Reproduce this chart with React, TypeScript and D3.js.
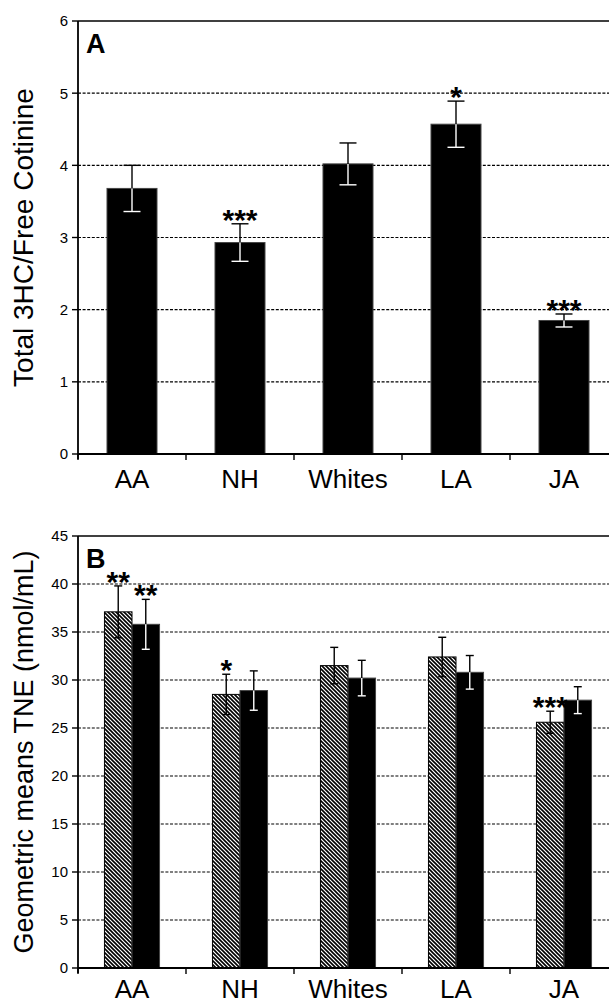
import React from 'react';
import * as d3 from 'd3';

// values
const categories = ['AA', 'NH', 'Whites', 'LA', 'JA'];

const ratioMeans = [3.68, 2.93, 4.02, 4.57, 1.85];
const ratioErrors = [0.32, 0.26, 0.29, 0.32, 0.09];
const ratioStars = ['', '***', '', '*', '***'];
const ratioTicks = [0, 1, 2, 3, 4, 5, 6];

const tneHatched = [37.1, 28.5, 31.5, 32.4, 25.6];
const tneHatchedErr = [2.7, 2.1, 1.9, 2.05, 1.15];
const tneHatchedStars = ['**', '*', '', '', '***'];
const tneSolid = [35.8, 28.9, 30.2, 30.8, 27.9];
const tneSolidErr = [2.6, 2.05, 1.85, 1.75, 1.4];
const tneSolidStars = ['**', '', '', '', ''];
const tneTicks = [0, 5, 10, 15, 20, 25, 30, 35, 40, 45];

const FONT = '"Liberation Sans", Arial, Helvetica, sans-serif';
const W = 609;
const H = 1005;
const left = 78;
const right = 618;

const x = d3.scaleBand().domain(categories).range([left, right]).padding(0);

type Bar = { key: string; cx: number; w: number; value: number; err: number; star: string; hatched: boolean };

function ErrorBar({ b, y, cap }: { b: Bar; y: d3.ScaleLinear<number, number>; cap: number }) {
  const top = y(b.value + b.err);
  const mid = y(b.value);
  const bot = y(b.value - b.err);
  const inner = b.hatched ? '#000' : '#fff';
  return (
    <g strokeWidth={1.4}>
      <line x1={b.cx} x2={b.cx} y1={top} y2={mid} stroke="#000" />
      <line x1={b.cx - cap / 2} x2={b.cx + cap / 2} y1={top} y2={top} stroke="#000" />
      <line x1={b.cx} x2={b.cx} y1={mid} y2={bot} stroke={inner} />
      <line x1={b.cx - cap / 2} x2={b.cx + cap / 2} y1={bot} y2={bot} stroke={inner} />
    </g>
  );
}

function Panel({ label, title, titleSize, top, bottom, ticks, bars, cap, labelGap }: {
  label: string; title: string; titleSize: number; top: number; bottom: number;
  ticks: number[]; bars: Bar[]; cap: number; labelGap: number;
}) {
  const y = d3.scaleLinear().domain([ticks[0], ticks[ticks.length - 1]]).range([bottom, top]);
  const boundaries = [left, ...categories.map(c => (x(c) as number) + x.bandwidth())];
  return (
    <g fontFamily={FONT}>
      {/* grid */}
      {ticks.slice(1, -1).map(t => (
        <line key={'g' + t} x1={left} x2={right} y1={y(t)} y2={y(t)}
          stroke="#000" strokeWidth={1.2} strokeDasharray="3,1.6" />
      ))}
      {/* bars */}
      {bars.map(b => (
        <rect key={b.key} x={b.cx - b.w / 2} y={y(b.value)} width={b.w} height={bottom - y(b.value)}
          fill={b.hatched ? 'url(#hatch)' : '#000'} stroke={b.hatched ? '#000' : '#444'} strokeWidth={1} />
      ))}
      {bars.map(b => <ErrorBar key={'e' + b.key} b={b} y={y} cap={cap} />)}
      {bars.filter(b => b.star).map(b => (
        <text key={'s' + b.key} x={b.cx} y={y(b.value + b.err) + 6} textAnchor="middle"
          fontSize={30} fontWeight="bold">{b.star}</text>
      ))}
      {/* frame & axes */}
      <line x1={left} x2={right} y1={top} y2={top} stroke="#000" strokeWidth={1.6} />
      <line x1={left} x2={right} y1={bottom} y2={bottom} stroke="#000" strokeWidth={1.8} />
      <line x1={left} x2={left} y1={top} y2={bottom + 5} stroke="#000" strokeWidth={1.8} />
      {ticks.map(t => (
        <g key={'t' + t}>
          <line x1={left - 6} x2={left} y1={y(t)} y2={y(t)} stroke="#000" strokeWidth={1.4} />
          <text x={left - 10} y={y(t)} dy="0.36em" textAnchor="end" fontSize={15}>{t}</text>
        </g>
      ))}
      {boundaries.map((bx, i) => (
        <line key={'xt' + i} x1={bx} x2={bx} y1={bottom} y2={bottom + 6} stroke="#000" strokeWidth={1.4} />
      ))}
      {categories.map(c => (
        <text key={'xl' + c} x={(x(c) as number) + x.bandwidth() / 2} y={bottom + labelGap}
          textAnchor="middle" fontSize={26}>{c}</text>
      ))}
      <text transform={`translate(33,${(top + bottom) / 2}) rotate(-90)`} textAnchor="middle"
        fontSize={titleSize}>{title}</text>
      <text x={86} y={top + 32} fontSize={27} fontWeight="bold">{label}</text>
    </g>
  );
}

export default function App() {
  const aw = x.bandwidth() * 0.463;
  const barsA: Bar[] = categories.map((c, i) => ({
    key: 'a' + c, cx: (x(c) as number) + x.bandwidth() / 2, w: aw,
    value: ratioMeans[i], err: ratioErrors[i], star: ratioStars[i], hatched: false,
  }));

  const inner = d3.scaleBand().domain(['h', 's']).range([0, x.bandwidth() * 0.51]);
  const off = (x.bandwidth() - x.bandwidth() * 0.51) / 2;
  const barsB: Bar[] = [];
  categories.forEach((c, i) => {
    const x0 = (x(c) as number) + off;
    barsB.push({
      key: 'h' + c, cx: x0 + (inner('h') as number) + inner.bandwidth() / 2, w: inner.bandwidth(),
      value: tneHatched[i], err: tneHatchedErr[i], star: tneHatchedStars[i], hatched: true,
    });
    barsB.push({
      key: 's' + c, cx: x0 + (inner('s') as number) + inner.bandwidth() / 2, w: inner.bandwidth(),
      value: tneSolid[i], err: tneSolidErr[i], star: tneSolidStars[i], hatched: false,
    });
  });

  return (
    <svg width={W} height={H} style={{ position: 'absolute', left: 0, top: 0, background: '#fff' }}>
      <defs>
        <pattern id="hatch" patternUnits="userSpaceOnUse" width={4} height={4}>
          <rect width={4} height={4} fill="#fff" />
          <path d="M-1,-1 L5,5 M-1,3 L1,5 M3,-1 L5,1" stroke="#000" strokeWidth={1.6} />
        </pattern>
      </defs>
      <rect width={W} height={H} fill="#fff" />
      <Panel label="A" title="Total 3HC/Free Cotinine" titleSize={28} top={21} bottom={454}
        ticks={ratioTicks} bars={barsA} cap={17} labelGap={34} />
      <Panel label="B" title="Geometric means TNE (nmol/mL)" titleSize={27} top={536} bottom={968}
        ticks={tneTicks} bars={barsB} cap={8} labelGap={30} />
    </svg>
  );
}
